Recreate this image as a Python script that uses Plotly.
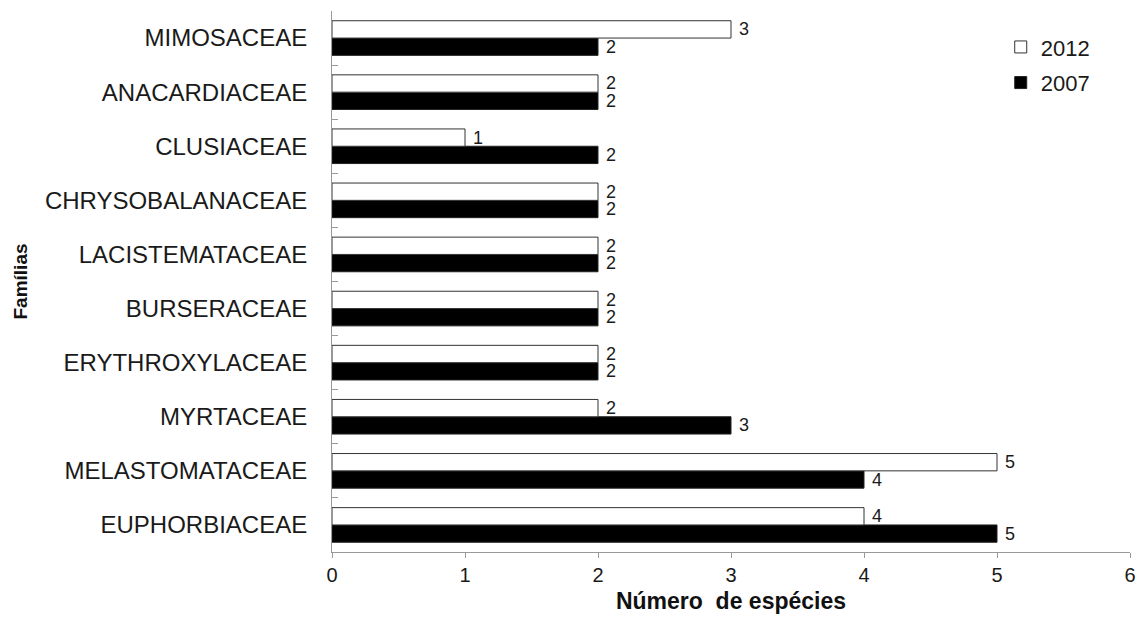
import plotly.graph_objects as go

families = ["EUPHORBIACEAE", "MELASTOMATACEAE", "MYRTACEAE", "ERYTHROXYLACEAE",
            "BURSERACEAE", "LACISTEMATACEAE", "CHRYSOBALANACEAE", "CLUSIACEAE",
            "ANACARDIACEAE", "MIMOSACEAE"]
values_2012 = [4, 5, 2, 2, 2, 2, 2, 1, 2, 3]
values_2007 = [5, 4, 3, 2, 2, 2, 2, 2, 2, 2]
x_ticks = [0, 1, 2, 3, 4, 5, 6]

font_family = "Liberation Sans, Arial, sans-serif"
txt = "#1a1a1a"

fig = go.Figure()
fig.add_trace(go.Bar(
    y=families, x=values_2007, orientation="h", name="2007", legendgroup="a", legendrank=2,
    marker=dict(color="black", line=dict(color="#222222", width=1)),
    text=values_2007, texttemplate=" %{x}", textposition="outside", cliponaxis=False,
    constraintext="none",
    textfont=dict(size=18, color=txt, family=font_family),
))
fig.add_trace(go.Bar(
    y=families, x=values_2012, orientation="h", name="2012", legendgroup="b", legendrank=1,
    marker=dict(color="white", line=dict(color="#333333", width=1)),
    text=values_2012, texttemplate=" %{x}", textposition="outside", cliponaxis=False,
    constraintext="none",
    textfont=dict(size=18, color=txt, family=font_family),
))

fig.update_layout(
    width=1140, height=617,
    margin=dict(l=332, r=10, t=11, b=65, autoexpand=False),
    paper_bgcolor="white", plot_bgcolor="white",
    barmode="group", bargap=0.36, bargroupgap=0,
    font=dict(family=font_family, color=txt, size=19),
    legend=dict(traceorder="grouped", x=0.838, y=0.972, xanchor="left", yanchor="top",
                font=dict(size=22, color=txt), bgcolor="rgba(0,0,0,0)",
                itemwidth=30, tracegroupgap=4),
    showlegend=True,
    xaxis=dict(range=[0, 6], tickvals=x_ticks, ticks="outside", ticklen=5,
               tickcolor="#999999", showgrid=False, zeroline=False,
               showline=True, linecolor="#999999", linewidth=1,
               tickfont=dict(size=20, color=txt),
               title=dict(text="<b>Número  de espécies</b>", font=dict(size=23, color="#111111"),
                          standoff=7)),
    yaxis=dict(categoryorder="array", categoryarray=families, ticks="inside",
               tickson="boundaries", ticklen=6, tickcolor="#999999",
               showgrid=False, showline=True, linecolor="#999999", linewidth=1,
               tickfont=dict(size=24, color=txt), ticklabelstandoff=19,
               title=dict(text="<b>Famílias</b>", font=dict(size=19, color="#111111"),
                          standoff=12)),
)

fig.write_html("out.html", config={"displayModeBar": False},
               post_script="document.body.style.margin='0';document.body.style.overflow='hidden';")
